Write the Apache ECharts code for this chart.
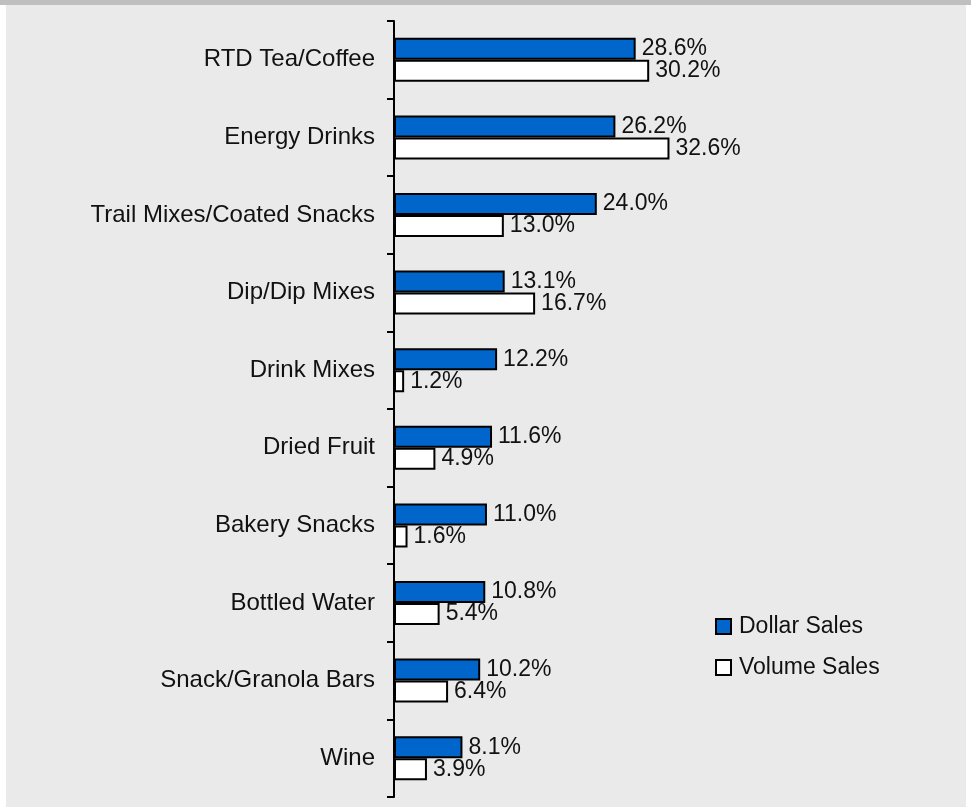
<!DOCTYPE html>
<html>
<head>
<meta charset="utf-8">
<script src="https://cdn.jsdelivr.net/npm/echarts@6/dist/echarts.min.js"></script>
<style>
  html, body { margin: 0; padding: 0; background: #ffffff; }
  #chart { width: 971px; height: 807px; }
</style>
</head>
<body>
<div id="chart"></div>
<script>
// Category growth, percent change by measure
const categories = [
  'RTD Tea/Coffee',
  'Energy Drinks',
  'Trail Mixes/Coated Snacks',
  'Dip/Dip Mixes',
  'Drink Mixes',
  'Dried Fruit',
  'Bakery Snacks',
  'Bottled Water',
  'Snack/Granola Bars',
  'Wine'
];
const dollarSales = [28.6, 26.2, 24.0, 13.1, 12.2, 11.6, 11.0, 10.8, 10.2, 8.1];
const volumeSales = [30.2, 32.6, 13.0, 16.7, 1.2, 4.9, 1.6, 5.4, 6.4, 3.9];
const seriesNames = ['Dollar Sales', 'Volume Sales'];

const FONT = 'Liberation Sans, Arial, sans-serif';
const TEXT = '#111111';

const chart = echarts.init(document.getElementById('chart'), null, { renderer: 'canvas' });

function pctLabel(p) {
  return Number(p.value).toFixed(1) + '%';
}

function barSeries(name, data, fill) {
  return {
    name: name,
    type: 'bar',
    data: data,
    barWidth: 22,
    barGap: '0%',
    itemStyle: { color: fill, borderColor: '#000000', borderWidth: 2 },
    label: {
      show: true,
      position: 'right',
      distance: 6,
      formatter: pctLabel,
      color: TEXT,
      fontFamily: FONT,
      fontSize: 23
    },
    emphasis: { disabled: true },
    animation: false
  };
}

chart.setOption({
  backgroundColor: '#ffffff',
  animation: false,
  graphic: [
    { type: 'rect', z: -10, silent: true, shape: { x: 6, y: 0, width: 960, height: 807 }, style: { fill: '#eaeaea' } },
    { type: 'rect', z: -9, silent: true, shape: { x: 0, y: 0, width: 971, height: 5 }, style: { fill: '#bfbfbf' } }
  ],
  grid: { left: 394, top: 21, width: 507, height: 776, containLabel: false },
  xAxis: {
    type: 'value',
    min: 0,
    max: 60,
    show: false
  },
  yAxis: {
    type: 'category',
    inverse: true,
    data: categories,
    axisLine: { show: true, lineStyle: { color: '#000000', width: 2 } },
    axisTick: { show: true, length: 7, lineStyle: { color: '#000000', width: 2 } },
    axisLabel: { color: TEXT, fontFamily: FONT, fontSize: 24, margin: 19 },
    splitLine: { show: false }
  },
  legend: {
    data: seriesNames,
    orient: 'vertical',
    left: 715,
    top: 614,
    padding: 0,
    itemWidth: 15,
    itemHeight: 15,
    itemGap: 16,
    icon: 'rect',
    textStyle: { color: TEXT, fontFamily: FONT, fontSize: 23, lineHeight: 25, padding: [0, 0, 0, 3] },
    selectedMode: false
  },
  series: [
    barSeries(seriesNames[0], dollarSales, '#0066cc'),
    barSeries(seriesNames[1], volumeSales, '#ffffff')
  ]
});
</script>
</body>
</html>
